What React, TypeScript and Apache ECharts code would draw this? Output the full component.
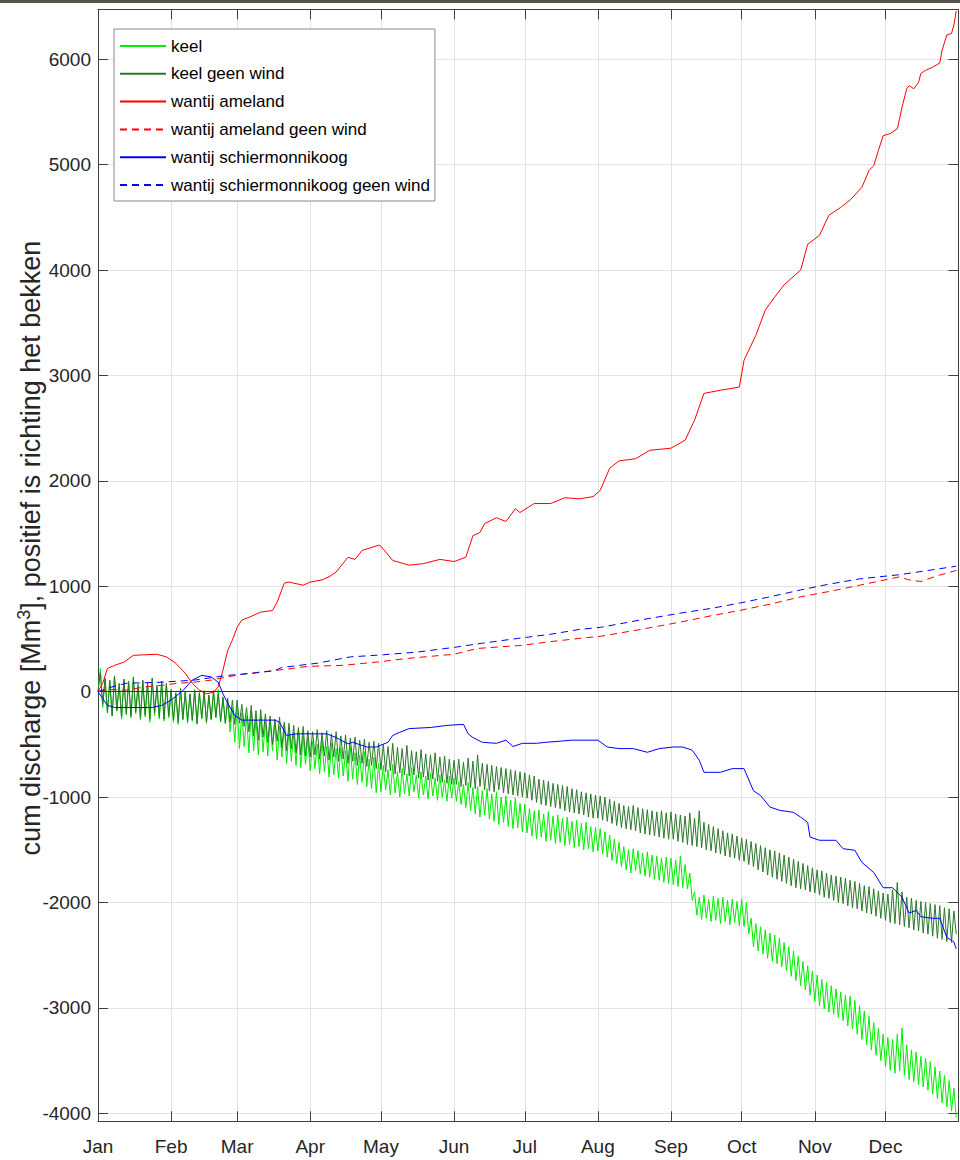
import React, { useEffect, useRef } from "react";
import * as echarts from "echarts";

// ---------- data (day of year, values in Mm3) ----------
const MONTH_LABELS = ["Jan","Feb","Mar","Apr","May","Jun","Jul","Aug","Sep","Oct","Nov","Dec"];
const Y_TICKS = [-4000, -3000, -2000, -1000, 0, 1000, 2000, 3000, 4000, 5000, 6000];

// keel (one value per day, Jan 1 .. Dec 31)
const KEEL_JAN = [0, 220, -150, 120, -200, 90, -230, 140, -180, 60, -260, 110, -220, 80, -250, 130, -210, 50, -270, 100, -240, 70, -290, 120, -230, 40, -260, 90, -280, 60, -250];
const KEEL_FEB = [10, -290, -20, -310, 30, -270, 0, -300, -30, -280, 20, -310, -10, -260, 10, -300, -40, -270, 0, -250, 20, -290, -60, -300, -90, -380, -150, -480];
const KEEL_MAR = [-150, -540, -200, -520, -230, -580, -190, -560, -260, -600, -240, -570, -280, -610, -270, -560, -300, -650, -330, -620, -310, -680, -370, -660, -390, -700, -360, -720, -420, -690, -440];
const KEEL_APR = [-750, -470, -730, -500, -780, -460, -760, -520, -810, -490, -790, -540, -820, -530, -800, -560, -850, -520, -830, -580, -880, -600, -860, -570, -900, -640, -920, -620, -960, -680];
const KEEL_MAY = [-950, -700, -930, -740, -980, -690, -960, -760, -1000, -730, -970, -780, -990, -720, -950, -790, -1010, -760, -980, -800, -1020, -770, -990, -820, -1030, -790, -1000, -840, -1040, -800, -1010];
const KEEL_JUN = [-820, -1040, -850, -1070, -880, -1100, -860, -1130, -910, -1160, -900, -1190, -940, -1170, -920, -1210, -970, -1230, -950, -1260, -1000, -1240, -990, -1280, -1030, -1300, -1010, -1290, -1060, -1330];
const KEEL_JUL = [-1070, -1340, -1110, -1370, -1130, -1400, -1120, -1380, -1160, -1420, -1140, -1410, -1180, -1440, -1170, -1430, -1200, -1460, -1190, -1450, -1230, -1480, -1220, -1470, -1250, -1500, -1240, -1490, -1280, -1520, -1290];
const KEEL_AUG = [-1510, -1300, -1540, -1330, -1570, -1360, -1600, -1400, -1630, -1430, -1660, -1470, -1690, -1500, -1720, -1490, -1700, -1510, -1730, -1530, -1750, -1520, -1760, -1550, -1780, -1560, -1790, -1580, -1810, -1570, -1820];
const KEEL_SEP = [-1580, -1830, -1600, -1850, -1560, -1860, -1640, -1870, -1720, -1980, -1900, -2120, -1950, -2160, -1930, -2150, -1970, -2180, -1940, -2170, -1960, -2200, -1950, -2180, -1980, -2210, -1970, -2190, -1990, -2220];
const KEEL_OCT = [-1970, -2230, -2000, -2300, -2150, -2420, -2200, -2460, -2230, -2490, -2260, -2530, -2290, -2560, -2310, -2580, -2340, -2610, -2380, -2650, -2420, -2700, -2460, -2740, -2510, -2790, -2560, -2830, -2600, -2880, -2650];
const KEEL_NOV = [-2940, -2690, -2980, -2730, -3010, -2760, -3040, -2790, -3060, -2820, -3090, -2850, -3120, -2880, -3170, -2890, -3200, -2930, -3250, -2980, -3300, -3030, -3350, -3080, -3400, -3140, -3450, -3190, -3500, -3250];
const KEEL_DEC = [-3560, -3280, -3590, -3300, -3620, -3250, -3600, -3190, -3640, -3350, -3680, -3400, -3700, -3420, -3730, -3460, -3750, -3480, -3780, -3510, -3820, -3560, -3860, -3600, -3900, -3640, -3940, -3690, -3980, -3760, -4040];

// keel geen wind (one value per day)
const KGW_JAN = [0, 180, -120, 130, -200, 110, -230, 150, -180, 80, -240, 120, -210, 100, -230, 140, -190, 70, -250, 110, -220, 90, -260, 130, -200, 60, -240, 100, -260, 80, -230];
const KGW_FEB = [20, -270, -10, -290, 30, -260, 0, -280, -20, -270, 10, -300, -10, -250, 0, -290, -30, -260, 10, -240, -20, -280, -50, -300, -60, -290, -80, -310];
const KGW_MAR = [-80, -300, -120, -330, -150, -380, -130, -420, -180, -460, -170, -430, -210, -480, -230, -500, -260, -470, -240, -530, -290, -560, -300, -540, -320, -580, -340, -600, -330, -610, -370];
const KGW_APR = [-620, -380, -600, -360, -640, -390, -610, -370, -650, -400, -620, -380, -660, -420, -640, -410, -680, -440, -660, -430, -700, -460, -680, -450, -710, -480, -700, -470, -730, -490];
const KGW_MAY = [-740, -500, -760, -520, -750, -490, -780, -530, -770, -540, -790, -510, -800, -560, -790, -570, -820, -550, -810, -590, -840, -600, -830, -580, -850, -620, -860, -610, -870, -640, -880];
const KGW_JUN = [-650, -880, -640, -900, -670, -890, -630, -910, -660, -920, -600, -900, -680, -930, -690, -940, -700, -950, -710, -930, -720, -960, -730, -970, -740, -980, -750, -990, -760, -1000];
const KGW_JUL = [-770, -1010, -790, -1030, -800, -1050, -830, -1070, -840, -1080, -850, -1090, -870, -1100, -880, -1110, -890, -1130, -900, -1140, -920, -1150, -930, -1160, -950, -1170, -960, -1190, -970, -1200, -980];
const KGW_AUG = [-1200, -990, -1220, -1000, -1230, -1020, -1250, -1040, -1270, -1060, -1290, -1080, -1300, -1090, -1310, -1080, -1320, -1100, -1340, -1110, -1350, -1120, -1360, -1130, -1370, -1140, -1380, -1130, -1390, -1150, -1400];
const KGW_SEP = [-1140, -1400, -1160, -1420, -1170, -1430, -1180, -1450, -1150, -1460, -1200, -1470, -1130, -1480, -1240, -1500, -1260, -1510, -1280, -1530, -1300, -1540, -1320, -1560, -1340, -1570, -1350, -1580, -1370, -1600];
const KGW_OCT = [-1390, -1610, -1400, -1640, -1420, -1660, -1440, -1690, -1460, -1710, -1480, -1740, -1500, -1760, -1510, -1780, -1530, -1800, -1550, -1820, -1570, -1840, -1590, -1860, -1610, -1870, -1630, -1880, -1650, -1900, -1670];
const KGW_NOV = [-1910, -1690, -1930, -1700, -1950, -1720, -1960, -1740, -1980, -1750, -2000, -1760, -2010, -1770, -2030, -1790, -2050, -1800, -2060, -1820, -2080, -1840, -2100, -1850, -2110, -1870, -2130, -1890, -2150, -1910];
const KGW_DEC = [-2170, -1920, -2190, -1880, -2200, -1810, -2210, -1900, -2230, -1950, -2240, -1960, -2260, -1980, -2270, -1990, -2290, -2000, -2300, -2010, -2320, -2020, -2340, -2030, -2350, -2050, -2370, -2060, -2380, -2080, -2300];

// wantij ameland: [day, value]
const AMELAND = [[0,0],[2,80],[4,220],[7,250],[11,280],[15,345],[25,355],[29,330],[33,270],[37,175],[40,80],[43,15],[46,-20],[49,-5],[51,45],[53,205],[55,390],[57,490],[59,610],[61,680],[64,705],[69,755],[74,770],[76,850],[79,1030],[81,1040],[87,1010],[90,1040],[95,1060],[98,1090],[101,1135],[106,1275],[109,1255],[112,1340],[119,1390],[120,1380],[125,1245],[132,1200],[138,1215],[145,1255],[151,1235],[156,1275],[159,1480],[162,1510],[164,1595],[169,1650],[173,1615],[177,1735],[179,1700],[185,1785],[192,1785],[198,1840],[204,1830],[210,1850],[213,1910],[217,2120],[221,2190],[228,2210],[234,2290],[243,2310],[249,2385],[253,2575],[257,2830],[264,2860],[272,2890],[274,3145],[279,3380],[283,3620],[287,3745],[291,3860],[298,4000],[301,4245],[306,4330],[310,4520],[315,4595],[319,4665],[324,4785],[327,4945],[329,4990],[331,5135],[333,5275],[336,5295],[339,5340],[340,5440],[341,5545],[343,5720],[344,5750],[346,5720],[348,5780],[349,5865],[351,5895],[354,5925],[357,5965],[358,6085],[360,6230],[362,6245],[363,6325],[364,6460]];
// wantij ameland geen wind
const AMELAND_GW = [[0,0],[5,20],[12,15],[20,45],[27,60],[34,80],[41,90],[48,110],[55,140],[62,170],[75,200],[89,240],[104,250],[120,285],[131,315],[151,355],[161,410],[180,440],[192,475],[204,505],[213,525],[230,590],[247,660],[260,720],[272,770],[285,830],[298,900],[310,950],[323,1010],[340,1090],[344,1060],[349,1045],[356,1100],[364,1150]];
// wantij schiermonnikoog
const SCHIER = [[0,0],[2,-65],[4,-130],[7,-150],[14,-150],[23,-150],[27,-130],[31,-80],[36,10],[40,110],[44,155],[48,140],[51,90],[53,-20],[55,-110],[58,-225],[61,-270],[70,-270],[75,-270],[77,-290],[80,-415],[84,-400],[93,-400],[97,-400],[101,-435],[106,-495],[108,-480],[114,-525],[118,-525],[123,-480],[125,-415],[128,-385],[132,-350],[141,-340],[148,-320],[155,-310],[157,-400],[159,-435],[163,-480],[169,-490],[173,-460],[176,-520],[180,-490],[186,-490],[190,-480],[196,-470],[201,-460],[212,-460],[216,-525],[221,-540],[227,-540],[233,-575],[238,-540],[244,-525],[248,-525],[252,-555],[255,-650],[257,-765],[264,-765],[269,-730],[274,-730],[278,-940],[281,-985],[285,-1095],[289,-1125],[295,-1145],[298,-1190],[301,-1240],[302,-1380],[306,-1410],[313,-1410],[316,-1490],[321,-1505],[324,-1620],[329,-1715],[333,-1860],[337,-1860],[341,-1950],[344,-2100],[347,-2075],[349,-2135],[354,-2150],[357,-2150],[360,-2330],[363,-2375],[364,-2440]];
// wantij schiermonnikoog geen wind
const SCHIER_GW = [[0,0],[5,40],[12,80],[27,90],[41,110],[55,155],[64,170],[75,200],[78,230],[93,270],[107,330],[121,350],[135,375],[151,420],[163,460],[178,505],[192,545],[204,590],[213,610],[230,680],[247,745],[260,790],[272,840],[285,900],[298,965],[310,1020],[323,1070],[340,1110],[352,1150],[364,1190]];

const KEEL = [...KEEL_JAN, ...KEEL_FEB, ...KEEL_MAR, ...KEEL_APR, ...KEEL_MAY, ...KEEL_JUN, ...KEEL_JUL, ...KEEL_AUG, ...KEEL_SEP, ...KEEL_OCT, ...KEEL_NOV, ...KEEL_DEC];
const KEEL_GW = [...KGW_JAN, ...KGW_FEB, ...KGW_MAR, ...KGW_APR, ...KGW_MAY, ...KGW_JUN, ...KGW_JUL, ...KGW_AUG, ...KGW_SEP, ...KGW_OCT, ...KGW_NOV, ...KGW_DEC];

const BASE = Date.UTC(2019, 0, 1);
const DAY = 86400000;
const toTime = (d: number) => BASE + d * DAY;

const FONT = "'Liberation Sans', Arial, Helvetica, sans-serif";

export default function App() {
  const ref = useRef<HTMLDivElement>(null);
  useEffect(() => {
    if (!ref.current) return;
    const chart = echarts.init(ref.current, null, { renderer: "svg" });
    const axisColor = "#404040";
    const gridColor = "#e2e2e2";
    const yMin = -4076;
    const yMax = 6474;
    const xMin = BASE;
    const xMax = BASE + 365 * DAY - 3600000;
    const yLabel = (v: number) => (Y_TICKS.indexOf(v) >= 0 ? String(v) : "");
    const xLabel = (v: number) => MONTH_LABELS[new Date(v).getUTCMonth()];

    const lineBase = { type: "line", showSymbol: false, symbol: "none", xAxisIndex: 0, yAxisIndex: 0 };
    chart.setOption({
      animation: false,
      useUTC: true,
      backgroundColor: "#ffffff",
      grid: { left: 98, right: 1.5, top: 9.3, bottom: 38.7, containLabel: false, outerBoundsMode: "none" },
      legend: {
        orient: "vertical",
        left: 114,
        top: 29,
        backgroundColor: "#ffffff",
        borderColor: "#8a8a8a",
        borderWidth: 1,
        padding: [8, 5, 7, 5],
        itemWidth: 46,
        itemHeight: 18,
        itemGap: 9.8,
        itemStyle: { opacity: 0 },
        textStyle: { fontFamily: FONT, fontSize: 17, color: "#000", lineHeight: 18 },
        data: ["keel", "keel geen wind", "wantij ameland", "wantij ameland geen wind", "wantij schiermonnikoog", "wantij schiermonnikoog geen wind"],
      },
      xAxis: [
        {
          type: "time",
          position: "bottom",
          min: xMin,
          max: xMax,
          minInterval: 28 * DAY,
          maxInterval: 31 * DAY,
          axisLine: { show: true, onZero: false, lineStyle: { color: axisColor, width: 1 } },
          axisTick: { show: true, inside: true, length: 10, lineStyle: { color: axisColor } },
          axisLabel: { formatter: xLabel, fontFamily: FONT, fontSize: 19, color: "#262626", margin: 16, showMaxLabel: false },
          splitLine: { show: true, lineStyle: { color: gridColor, width: 1 } },
        },
        {
          type: "time",
          position: "top",
          min: xMin,
          max: xMax,
          minInterval: 28 * DAY,
          maxInterval: 31 * DAY,
          axisLine: { show: true, onZero: false, lineStyle: { color: axisColor, width: 1 } },
          axisTick: { show: true, inside: true, length: 10, lineStyle: { color: axisColor } },
          axisLabel: { show: false },
          splitLine: { show: false },
        },
      ],
      yAxis: [
        {
          type: "value",
          position: "left",
          min: yMin,
          max: yMax,
          splitNumber: 10,
          axisLine: { show: true, onZero: false, lineStyle: { color: axisColor, width: 1 } },
          axisTick: { show: true, inside: true, length: 10, lineStyle: { color: axisColor } },
          axisLabel: { formatter: yLabel, fontFamily: FONT, fontSize: 19, color: "#262626", margin: 7 },
          splitLine: { show: true, lineStyle: { color: gridColor, width: 1 } },
        },
        {
          type: "value",
          position: "right",
          min: yMin,
          max: yMax,
          splitNumber: 10,
          axisLine: { show: true, onZero: false, lineStyle: { color: axisColor, width: 1 } },
          axisTick: { show: true, inside: true, length: 10, lineStyle: { color: axisColor } },
          axisLabel: { show: false },
          splitLine: { show: false },
        },
      ],
      graphic: [
        { type: "rect", left: 0, top: 0, shape: { width: 960, height: 3 }, style: { fill: "#56544a" }, silent: true },
        {
          type: "text",
          x: 31,
          y: 548,
          rotation: Math.PI / 2,
          silent: true,
          style: {
            text: "cum discharge [Mm{sup|3}], positief is richting het bekken",
            fontFamily: FONT,
            fontSize: 27,
            fill: "#262626",
            align: "center",
            verticalAlign: "middle",
            rich: { sup: { fontSize: 18, fontFamily: FONT, fill: "#262626", padding: [0, 0, 14, 0] } },
          },
        },
      ],
      series: [
        {
          ...lineBase,
          name: "keel",
          data: KEEL.map((v, i) => [toTime(i), v]),
          lineStyle: { color: "#00ee00", width: 1 },
          itemStyle: { color: "#00ee00" },
          markLine: {
            silent: true,
            symbol: ["none", "none"],
            label: { show: false },
            lineStyle: { color: "#333333", width: 1, type: "solid" },
            data: [{ yAxis: 0 }],
          },
        },
        {
          ...lineBase,
          name: "keel geen wind",
          data: KEEL_GW.map((v, i) => [toTime(i), v]),
          lineStyle: { color: "#2a782a", width: 1 },
          itemStyle: { color: "#2a782a" },
        },
        {
          ...lineBase,
          name: "wantij ameland",
          data: AMELAND.map(([d, v]) => [toTime(d), v]),
          lineStyle: { color: "#ff0000", width: 1 },
          itemStyle: { color: "#ff0000" },
        },
        {
          ...lineBase,
          name: "wantij ameland geen wind",
          data: AMELAND_GW.map(([d, v]) => [toTime(d), v]),
          lineStyle: { color: "#ff0000", width: 1, type: [7, 5] },
          itemStyle: { color: "#ff0000" },
        },
        {
          ...lineBase,
          name: "wantij schiermonnikoog",
          data: SCHIER.map(([d, v]) => [toTime(d), v]),
          lineStyle: { color: "#0000ff", width: 1 },
          itemStyle: { color: "#0000ff" },
        },
        {
          ...lineBase,
          name: "wantij schiermonnikoog geen wind",
          data: SCHIER_GW.map(([d, v]) => [toTime(d), v]),
          lineStyle: { color: "#0000ff", width: 1, type: [7, 5] },
          itemStyle: { color: "#0000ff" },
        },
      ],
    });
    return () => chart.dispose();
  }, []);
  return <div ref={ref} style={{ position: "absolute", left: 0, top: 0, width: 960, height: 1160 }} />;
}
